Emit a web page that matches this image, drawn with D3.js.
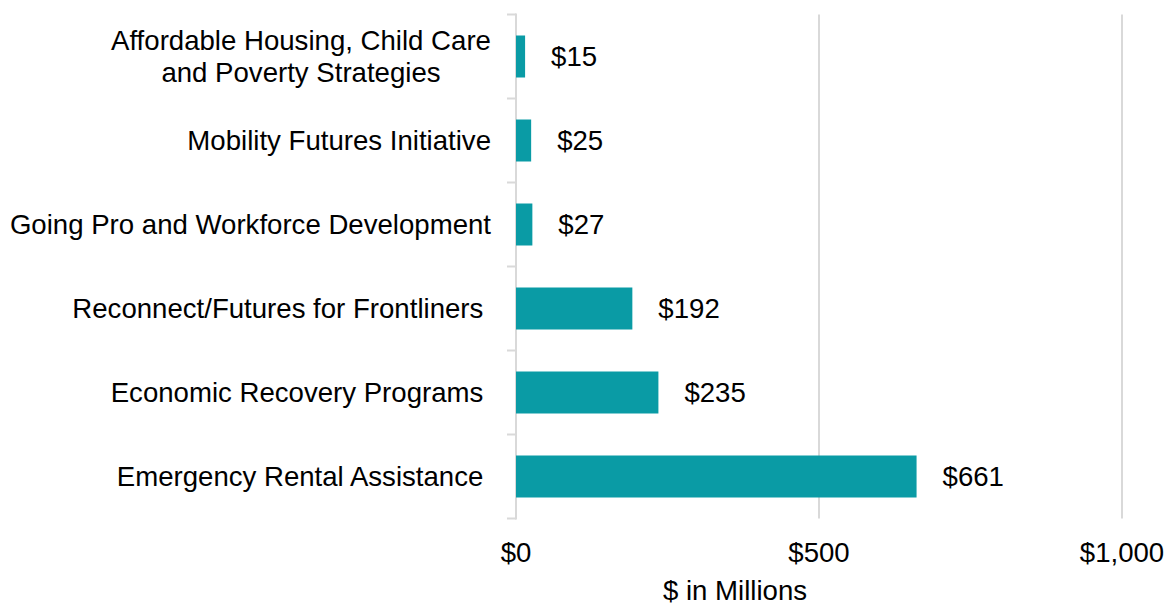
<!DOCTYPE html>
<html><head><meta charset="utf-8">
<script src="https://cdn.jsdelivr.net/npm/d3@7"></script>
<style>
body{margin:0;background:#fff;}
svg{font-family:"Liberation Sans",Arial,sans-serif;}
</style></head>
<body><svg id="c" width="1166" height="606"></svg>
<script>
const categories = [
  ["Affordable Housing, Child Care", "and Poverty Strategies"],
  ["Mobility Futures Initiative"],
  ["Going Pro and Workforce Development"],
  ["Reconnect/Futures for Frontliners\u00A0"],
  ["Economic Recovery Programs\u00A0"],
  ["Emergency Rental Assistance\u00A0"]
];
const values = [15, 25, 27, 192, 235, 661];
const tickValues = [0, 500, 1000];
const tickLabels = ["$0", "$500", "$1,000"];
const axisTitle = "$ in Millions";

const svg = d3.select("#c");
const x = d3.scaleLinear().domain([0, 1000]).range([516, 1122]);
const y = d3.scaleBand().domain(d3.range(categories.length)).range([14.5, 518.5])
  .paddingInner(0.5).paddingOuter(0.25);
const bandStep = y.step();
const fs = 27.6;

// gridlines
svg.append("g").selectAll("line").data(tickValues.slice(1)).join("line")
  .attr("x1", d => x(d)).attr("x2", d => x(d))
  .attr("y1", 14.5).attr("y2", 518.5)
  .attr("stroke", "#d9d9d9").attr("stroke-width", 2);

// y axis line + ticks
const yAxisG = svg.append("g");
yAxisG.append("line").attr("x1", x(0)).attr("x2", x(0)).attr("y1", 13.5).attr("y2", 519.5)
  .attr("stroke", "#d9d9d9").attr("stroke-width", 2);
const bounds = d3.range(categories.length + 1).map(i => 14.5 + i * bandStep);
yAxisG.selectAll("line.t").data(bounds).join("line").attr("class", "t")
  .attr("x1", x(0) - 9).attr("x2", x(0)).attr("y1", d => d).attr("y2", d => d)
  .attr("stroke", "#d9d9d9").attr("stroke-width", 2);

// bars
svg.append("g").selectAll("rect").data(values).join("rect")
  .attr("x", x(0)).attr("y", (d, i) => y(i))
  .attr("width", d => x(d) - x(0)).attr("height", y.bandwidth())
  .attr("fill", "#0A9BA5");

// value labels
svg.append("g").selectAll("text").data(values).join("text")
  .attr("x", d => x(d) + 26).attr("y", (d, i) => y(i) + y.bandwidth() / 2)
  .attr("dy", "0.36em").attr("font-size", fs).attr("fill", "#000")
  .text(d => "$" + d3.format(",")(d));

// category labels
const cg = svg.append("g");
categories.forEach((lines, i) => {
  const cy = y(i) + y.bandwidth() / 2;
  const n = lines.length;
  const lh = 32;
  const t = cg.append("text").attr("font-size", fs).attr("fill", "#000")
    .attr("text-anchor", n > 1 ? "middle" : "end").style("white-space", "pre");
  lines.forEach((ln, j) => {
    t.append("tspan").attr("x", n > 1 ? 301 : 491)
      .attr("y", cy + (j - (n - 1) / 2) * lh)
      .attr("dy", "0.35em").text(ln);
  });
});

// x tick labels
svg.append("g").selectAll("text").data(tickValues).join("text")
  .attr("x", d => x(d)).attr("y", 562).attr("text-anchor", "middle")
  .attr("font-size", fs).attr("fill", "#000")
  .text((d, i) => tickLabels[i]);

// axis title
svg.append("text").attr("x", 735).attr("y", 600).attr("text-anchor", "middle")
  .attr("font-size", fs).attr("fill", "#000").text(axisTitle);
</script></body></html>
